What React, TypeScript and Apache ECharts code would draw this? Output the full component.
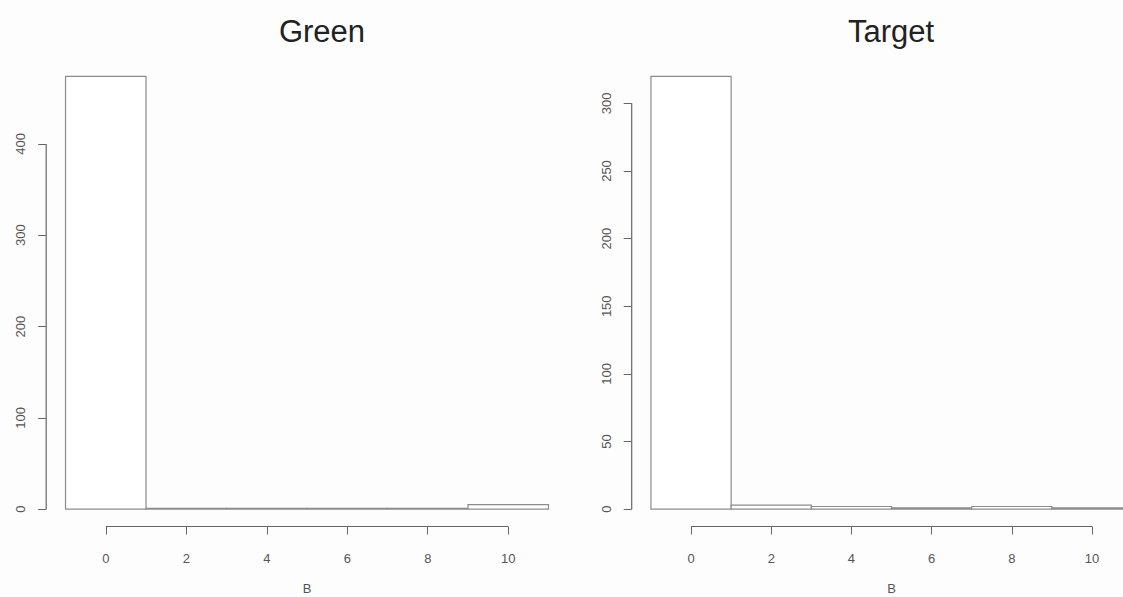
import React, { useEffect, useRef } from "react";
import * as echarts from "echarts";

// ---- data ----
const binEdges = [-1, 1, 3, 5, 7, 9, 11];
const greenCounts = [474, 1, 1, 1, 1, 5];
const targetCounts = [320, 3, 2, 1, 2, 1];
const xTicks = [0, 2, 4, 6, 8, 10];
const greenYTicks = [0, 100, 200, 300, 400];
const targetYTicks = [0, 50, 100, 150, 200, 250, 300];
const titles = ["Green", "Target"];
const xName = "B";

const FONT = "'Liberation Sans', Arial, Helvetica, sans-serif";
const AXIS_COLOR = "#666";
const LABEL_COLOR = "#555";
const BAR_COLOR = "#8c8c8c";

function ext(lo: number, hi: number) {
  const r = hi - lo;
  return [lo - 0.04 * r, hi + 0.04 * r];
}

const xr = ext(binEdges[0], binEdges[binEdges.length - 1]);

const panels = [
  { title: titles[0], counts: greenCounts, yTicks: greenYTicks, left: 46.2, width: 521.6, titleX: 317 },
  { title: titles[1], counts: targetCounts, yTicks: targetYTicks, left: 631.7, width: 519.7, titleX: 886 },
];

export default function App() {
  const ref = useRef<HTMLDivElement>(null);
  useEffect(() => {
    if (!ref.current) return;
    const chart = echarts.init(ref.current, undefined, { renderer: "svg" });
    const grid: any[] = [];
    const xAxis: any[] = [];
    const yAxis: any[] = [];
    const series: any[] = [];
    const title: any[] = [];
    panels.forEach((p, i) => {
      const maxC = Math.max(...p.counts);
      const yr = ext(0, maxC);
      grid.push({
        left: p.left,
        width: p.width,
        top: 59,
        height: 467.5,
        containLabel: false,
        outerBoundsMode: "none",
      });
      xAxis.push({
        type: "value",
        gridIndex: i,
        min: xr[0],
        max: xr[1],
        axisLine: { show: false, onZero: false },
        splitLine: { show: false },
        axisTick: { show: true, length: 8, lineStyle: { color: AXIS_COLOR }, customValues: xTicks },
        axisLabel: {
          customValues: xTicks,
          margin: 25,
          color: LABEL_COLOR,
          fontSize: 13,
          fontFamily: FONT,
        },
        name: xName,
        nameLocation: "middle",
        nameGap: 55,
        nameTextStyle: { color: LABEL_COLOR, fontSize: 13, fontFamily: FONT },
      });
      yAxis.push({
        type: "value",
        gridIndex: i,
        min: yr[0],
        max: yr[1],
        axisLine: { show: false, onZero: false },
        splitLine: { show: false },
        axisTick: { show: true, length: 8, lineStyle: { color: AXIS_COLOR }, customValues: p.yTicks },
        axisLabel: {
          customValues: p.yTicks,
          rotate: 90,
          margin: 19,
          color: LABEL_COLOR,
          fontSize: 13,
          fontFamily: FONT,
        },
      });
      const bins = p.counts.map((c, k) => [binEdges[k], binEdges[k + 1], c]);
      series.push({
        type: "custom",
        xAxisIndex: i,
        yAxisIndex: i,
        clip: false,
        data: bins,
        renderItem: (params: any, api: any) => {
          const a = api.coord([api.value(0), api.value(2)]);
          const b = api.coord([api.value(1), 0]);
          return {
            type: "rect",
            shape: { x: a[0], y: a[1], width: b[0] - a[0], height: b[1] - a[1] },
            style: { fill: "#ffffff", stroke: BAR_COLOR, lineWidth: 1.2 },
          };
        },
      });
      // R-style axis lines spanning only the tick range
      const axisSpan = [[xTicks[0], xTicks[xTicks.length - 1], p.yTicks[0], p.yTicks[p.yTicks.length - 1]]];
      series.push({
        type: "custom",
        xAxisIndex: i,
        yAxisIndex: i,
        clip: false,
        z: 10,
        data: axisSpan,
        renderItem: (params: any, api: any) => {
          const xa = api.coord([api.value(0), yr[0]]);
          const xb = api.coord([api.value(1), yr[0]]);
          const ya = api.coord([xr[0], api.value(2)]);
          const yb = api.coord([xr[0], api.value(3)]);
          return {
            type: "group",
            children: [
              {
                type: "line",
                shape: { x1: xa[0], y1: xa[1], x2: xb[0], y2: xb[1] },
                style: { stroke: AXIS_COLOR, lineWidth: 1 },
              },
              {
                type: "line",
                shape: { x1: ya[0], y1: ya[1], x2: yb[0], y2: yb[1] },
                style: { stroke: AXIS_COLOR, lineWidth: 1.2 },
              },
            ],
          };
        },
      });
      title.push({
        text: p.title,
        left: p.titleX,
        top: 11,
        textAlign: "center",
        textStyle: { fontSize: 31, fontWeight: "normal", color: "#222", fontFamily: FONT },
      });
    });
    chart.setOption({
      animation: false,
      backgroundColor: "#fdfdfd",
      title,
      grid,
      xAxis,
      yAxis,
      series,
    });
    return () => chart.dispose();
  }, []);
  return (
    <div
      ref={ref}
      style={{ position: "absolute", left: 0, top: 0, width: 1123, height: 597 }}
    />
  );
}
